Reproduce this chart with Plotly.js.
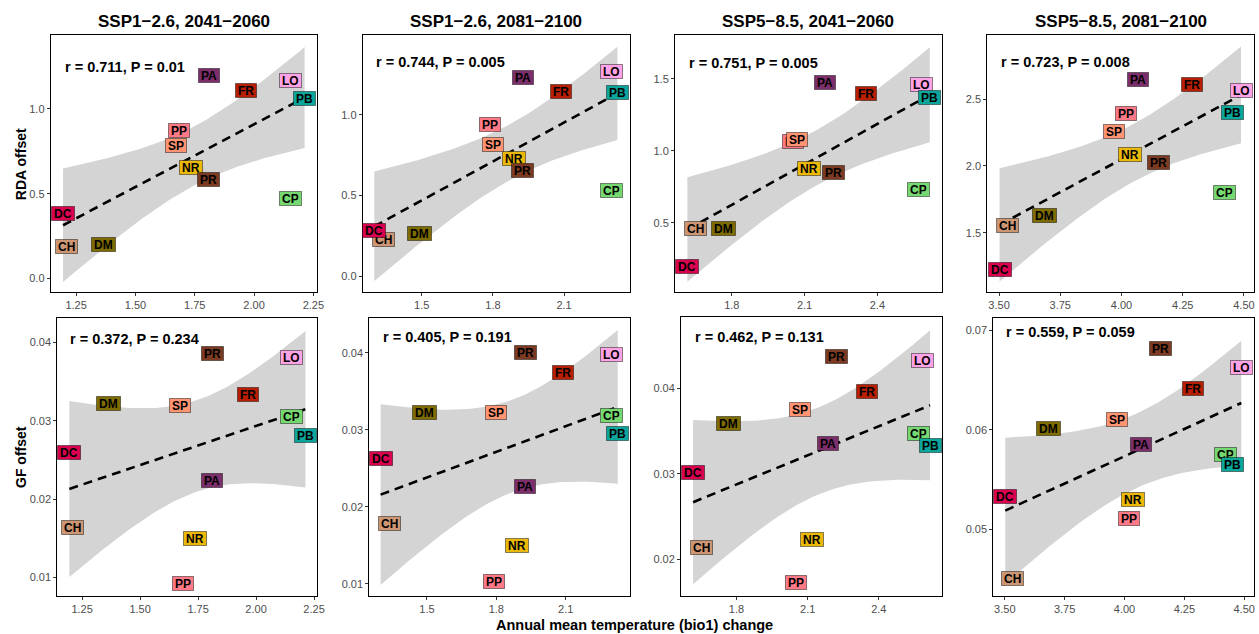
<!DOCTYPE html>
<html>
<head>
<meta charset="utf-8">
<script src="https://cdn.plot.ly/plotly-3.0.1.min.js"></script>
<style>
html,body{margin:0;padding:0;background:#fff;}
#chart{width:1259px;height:634px;}
</style>
</head>
<body>
<div id="chart"></div>
<script>
// ---------------- DATA ----------------
const species = ["CH","CP","DC","DM","FR","LO","NR","PA","PB","PP","PR","SP"];
const speciesColors = ["#CC9673","#76D870","#D8024E","#7E6C00","#B71E02","#FFA3E6","#ECB808","#7C2E6A","#0AA69C","#FF7A86","#7B3A21","#FF9372"];

const panelTitles = ["SSP1\u22122.6, 2041\u22122060","SSP1\u22122.6, 2081\u22122100","SSP5\u22128.5, 2041\u22122060","SSP5\u22128.5, 2081\u22122100"];

// bio1 change per scenario (x)
const bio1_ssp126_2050 = [1.21, 2.153, 1.195, 1.365, 1.965, 2.153, 1.735, 1.808, 2.213, 1.683, 1.81, 1.671];
const bio1_ssp126_2090 = [1.34, 2.30, 1.30, 1.49, 2.087, 2.30, 1.888, 1.925, 2.325, 1.788, 1.925, 1.80];
const bio1_ssp585_2050 = [1.651, 2.568, 1.617, 1.765, 2.352, 2.583, 2.118, 2.185, 2.616, 2.052, 2.22, 2.067];
const bio1_ssp585_2090 = [3.534, 4.42, 3.502, 3.684, 4.286, 4.488, 4.035, 4.069, 4.452, 4.019, 4.151, 3.969];

// RDA offset per scenario
const rda_ssp126_2050 = [0.187, 0.470, 0.385, 0.202, 1.106, 1.169, 0.654, 1.195, 1.059, 0.876, 0.585, 0.782];
const rda_ssp126_2090 = [0.225, 0.534, 0.285, 0.266, 1.146, 1.266, 0.726, 1.231, 1.136, 0.942, 0.654, 0.814];
const rda_ssp585_2050 = [0.461, 0.732, 0.194, 0.461, 1.400, 1.461, 0.878, 1.474, 1.370, 1.066, 0.850, 1.082];
const rda_ssp585_2090 = [1.555, 1.799, 1.226, 1.630, 2.610, 2.562, 2.084, 2.645, 2.403, 2.393, 2.029, 2.261];

// GF offset per scenario
const gf_ssp126_2050 = [0.0164, 0.0306, 0.0259, 0.0322, 0.0333, 0.0381, 0.0149, 0.0224, 0.0281, 0.0092, 0.0386, 0.0320];
const gf_ssp126_2090 = [0.0178, 0.0318, 0.0263, 0.0323, 0.0374, 0.0398, 0.0150, 0.0226, 0.0295, 0.0103, 0.0400, 0.0323];
const gf_ssp585_2050 = [0.0214, 0.0347, 0.0302, 0.0359, 0.0396, 0.0432, 0.0223, 0.0335, 0.0333, 0.0173, 0.0437, 0.0375];
const gf_ssp585_2090 = [0.0450, 0.0575, 0.0533, 0.0601, 0.0641, 0.0663, 0.0530, 0.0585, 0.0565, 0.0511, 0.0682, 0.0610];

const statLabels = ["r = 0.711, P = 0.01","r = 0.744, P = 0.005","r = 0.751, P = 0.005","r = 0.723, P = 0.008",
                    "r = 0.372, P = 0.234","r = 0.405, P = 0.191","r = 0.462, P = 0.131","r = 0.559, P = 0.059"];

const yTitles = ["RDA offset","GF offset"];
const xTitle = "Annual mean temperature (bio1) change";

// ---------------- LAYOUT HELPERS ----------------
const W = 1259, H = 634;
const FONT = "Liberation Sans, Arial, Helvetica, sans-serif";
const T_975_DF10 = 2.228;

const xs = [bio1_ssp126_2050, bio1_ssp126_2090, bio1_ssp585_2050, bio1_ssp585_2090];
const ysTop = [rda_ssp126_2050, rda_ssp126_2090, rda_ssp585_2050, rda_ssp585_2090];
const ysBot = [gf_ssp126_2050, gf_ssp126_2090, gf_ssp585_2050, gf_ssp585_2090];

// panel pixel boxes [left, right, top, bottom]
const boxes = [
  [50.7,316.7,35,291.7],[362.7,630,35,292],[675,941.7,35,292],[987.3,1254,35,291.7],
  [57.3,317.3,318.3,596],[369.3,630,317.7,596],[681,941.7,317.3,596],[993.3,1254,318.3,595.7]
];
const xRanges = [[1.143,2.264],[1.251,2.378],[1.566,2.665],[3.452,4.541]];
const yRanges = [[-0.077,1.436],[-0.097,1.493],[0.018,1.806],[1.059,2.979],
                 [0.0076,0.0431],[0.0084,0.04455],[0.0157,0.0483],[0.0433,0.0712]];
const xTicks = [{tick0:1.25,dtick:0.25,f:".2f"},{tick0:1.5,dtick:0.3,f:".1f"},{tick0:1.5,dtick:0.3,f:".1f"},{tick0:3.5,dtick:0.25,f:".2f"}];
const yTicks = [{tick0:0,dtick:0.5,f:".1f"},{tick0:0,dtick:0.5,f:".1f"},{tick0:0.5,dtick:0.5,f:".1f"},{tick0:1.5,dtick:0.5,f:".1f"},
                {tick0:0.01,dtick:0.01,f:".2f"},{tick0:0.01,dtick:0.01,f:".2f"},{tick0:0.02,dtick:0.01,f:".2f"},{tick0:0.05,dtick:0.01,f:".2f"}];
const statPos = [[0.045,0.876],[0.044,0.894],[0.044,0.89],[0.045,0.896],[0.042,0.924],[0.044,0.932],[0.045,0.928],[0.042,0.952]];

function fitBand(x, y, nPts){
  const n = x.length;
  const mx = x.reduce((a,b)=>a+b,0)/n, my = y.reduce((a,b)=>a+b,0)/n;
  let sxx=0, sxy=0;
  for(let i=0;i<n;i++){ sxx+=(x[i]-mx)**2; sxy+=(x[i]-mx)*(y[i]-my); }
  const b = sxy/sxx, a = my - b*mx;
  let sse=0; for(let i=0;i<n;i++){ sse += (y[i]-(a+b*x[i]))**2; }
  const s = Math.sqrt(sse/(n-2));
  const xmin = Math.min(...x), xmax = Math.max(...x);
  const gx=[], fit=[], lo=[], hi=[];
  for(let k=0;k<nPts;k++){
    const xv = xmin + (xmax-xmin)*k/(nPts-1);
    const f = a + b*xv;
    const se = s*Math.sqrt(1/n + (xv-mx)**2/sxx);
    gx.push(xv); fit.push(f); lo.push(f - T_975_DF10*se); hi.push(f + T_975_DF10*se);
  }
  return {gx, fit, lo, hi};
}

const traces = [];
const layout = {
  width: W, height: H,
  margin: {l:0, r:0, t:0, b:0},
  paper_bgcolor: "#ffffff", plot_bgcolor: "#ffffff",
  showlegend: false,
  font: {family: FONT, color: "#000"},
  annotations: []
};

for(let p=0;p<8;p++){
  const col = p % 4;
  const xd = xs[col];
  const yd = p < 4 ? ysTop[col] : ysBot[col];
  const sfx = p === 0 ? "" : String(p+1);
  const xa = "x"+sfx, ya = "y"+sfx;
  const b = boxes[p];

  layout["xaxis"+sfx] = {
    domain: [b[0]/W, b[1]/W], anchor: ya,
    range: xRanges[col], autorange: false,
    showgrid: false, zeroline: false,
    showline: true, mirror: true, linecolor: "#000", linewidth: 1,
    ticks: "outside", ticklen: 3, tickwidth: 1, tickcolor: "#333",
    tickmode: "linear", tick0: xTicks[col].tick0, dtick: xTicks[col].dtick, tickformat: xTicks[col].f,
    tickfont: {family: FONT, size: 11, color: "#4D4D4D"}
  };
  layout["yaxis"+sfx] = {
    domain: [1-b[3]/H, 1-b[2]/H], anchor: xa,
    range: yRanges[p], autorange: false,
    showgrid: false, zeroline: false,
    showline: true, mirror: true, linecolor: "#000", linewidth: 1,
    ticks: "outside", ticklen: 3, tickwidth: 1, tickcolor: "#333",
    tickmode: "linear", tick0: yTicks[p].tick0, dtick: yTicks[p].dtick, tickformat: yTicks[p].f,
    tickfont: {family: FONT, size: 11, color: "#4D4D4D"}
  };

  const band = fitBand(xd, yd, 80);
  traces.push({
    type: "scatter", mode: "lines", xaxis: xa, yaxis: ya,
    x: band.gx.concat(band.gx.slice().reverse()),
    y: band.hi.concat(band.lo.slice().reverse()),
    fill: "toself", fillcolor: "#D4D4D4", line: {width: 0, color: "rgba(0,0,0,0)"},
    hoverinfo: "skip"
  });
  traces.push({
    type: "scatter", mode: "lines", xaxis: xa, yaxis: ya,
    x: band.gx, y: band.fit,
    line: {color: "#000", width: 2.6, dash: "9px,6px"},
    hoverinfo: "skip"
  });

  // species labels
  for(let i=0;i<species.length;i++){
    layout.annotations.push({
      xref: xa, yref: ya, x: xd[i], y: yd[i],
      text: "<b>"+species[i]+"</b>", showarrow: false,
      xanchor: "center", yanchor: "middle",
      bgcolor: speciesColors[i], bordercolor: "rgba(0,0,0,0.45)", borderwidth: 1, borderpad: 2,
      height: 9,
      font: {family: FONT, size: 12, color: "#000"}
    });
  }
  // stat label
  layout.annotations.push({
    xref: xa+" domain", yref: ya+" domain", x: statPos[p][0], y: statPos[p][1],
    xanchor: "left", yanchor: "middle", showarrow: false,
    text: "<b>"+statLabels[p]+"</b>",
    font: {family: FONT, size: 14.5, color: "#000"}
  });
}

// panel titles
for(let c=0;c<4;c++){
  const b = boxes[c];
  layout.annotations.push({
    xref: "paper", yref: "paper", x: (b[0]+b[1])/2/W, y: 1-21/H,
    xanchor: "center", yanchor: "middle", showarrow: false,
    text: "<b>"+panelTitles[c]+"</b>",
    font: {family: FONT, size: 17, color: "#000"}
  });
}
// y titles
layout.annotations.push({xref:"paper", yref:"paper", x: 21.7/W, y: 1-164.5/H, xanchor:"center", yanchor:"middle",
  showarrow:false, textangle:-90, text:"<b>"+yTitles[0]+"</b>", font:{family:FONT,size:14,color:"#000"}});
layout.annotations.push({xref:"paper", yref:"paper", x: 21/W, y: 1-457/H, xanchor:"center", yanchor:"middle",
  showarrow:false, textangle:-90, text:"<b>"+yTitles[1]+"</b>", font:{family:FONT,size:14,color:"#000"}});
// x title
layout.annotations.push({xref:"paper", yref:"paper", x: 634.5/W, y: 1-625/H, xanchor:"center", yanchor:"middle",
  showarrow:false, text:"<b>"+xTitle+"</b>", font:{family:FONT,size:14.5,color:"#000"}});

Plotly.newPlot("chart", traces, layout, {staticPlot: true, displayModeBar: false});
</script>
</body>
</html>
